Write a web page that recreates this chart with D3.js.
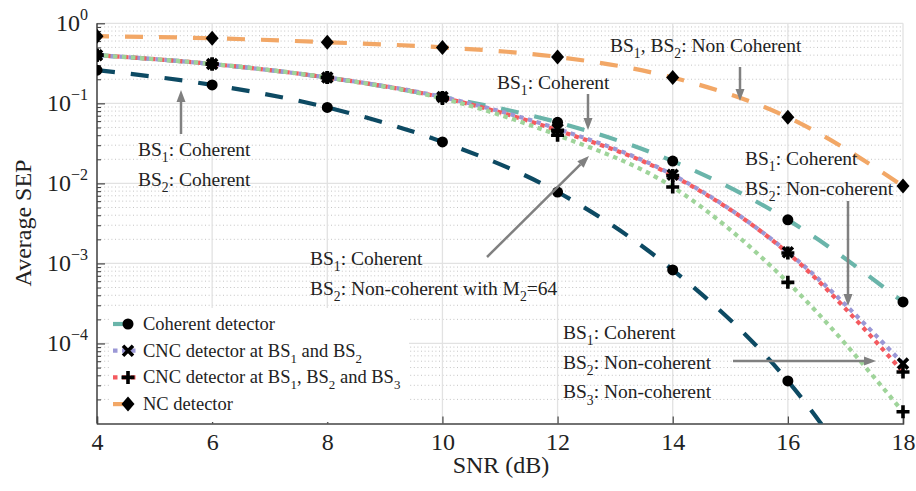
<!DOCTYPE html>
<html><head><meta charset="utf-8">
<script src="https://cdn.jsdelivr.net/npm/d3@7"></script>
<style>body{margin:0;background:#fff}svg{display:block}text{font-family:"Liberation Serif","DejaVu Serif",serif;fill:#222}</style>
</head><body><svg id="c" width="916" height="491"></svg>
<script>
const snr = [4, 6, 8, 10, 12, 14, 16, 18];
const xTicks = [4, 6, 8, 10, 12, 14, 16, 18];
const yTickExp = [0, -1, -2, -3, -4];
// series values (Average SEP)
const coherentAll = [0.40, 0.31, 0.21, 0.12, 0.058, 0.019, 0.0035, 0.00033];
const coherentTwo = [0.26, 0.17, 0.089, 0.033, 0.0078, 0.00083, 0.000034, 0.0000003];
const cncBS12 = [0.40, 0.31, 0.21, 0.12, 0.048, 0.0128, 0.00138, 0.000056];
const cncBS123 = [0.40, 0.31, 0.21, 0.118, 0.046, 0.0125, 0.00135, 0.000044];
const cncM64 = [0.40, 0.31, 0.21, 0.115, 0.040, 0.0090, 0.00058, 0.000014];
const ncDet = [0.69, 0.65, 0.58, 0.50, 0.38, 0.21, 0.067, 0.0093];
const legendLabels = ["Coherent detector", "CNC detector at BS_1 and BS_2", "CNC detector at BS_1, BS_2 and BS_3", "NC detector"];

const svg = d3.select("#c");
const L = 97, R = 903, T = 23.3, B = 423.5;
const x = d3.scaleLinear().domain([4, 18]).range([L, R]);
const y = d3.scaleLog().domain([1e-5, 1]).range([B, T]);

// grid
const g = svg.append("g");
for (let e = -5; e < 0; e++) {
  for (let m = 2; m <= 9; m++) {
    const v = m * Math.pow(10, e);
    g.append("line").attr("x1", L).attr("x2", R).attr("y1", y(v)).attr("y2", y(v))
      .attr("stroke", "#c4c4c4").attr("stroke-width", 1).attr("stroke-dasharray", "1,2.6");
  }
}
yTickExp.forEach(e => g.append("line").attr("x1", L).attr("x2", R).attr("y1", y(Math.pow(10, e))).attr("y2", y(Math.pow(10, e)))
  .attr("stroke", "#e2e2e2").attr("stroke-width", 1.3));
xTicks.forEach(t => g.append("line").attr("x1", x(t)).attr("x2", x(t)).attr("y1", T).attr("y2", B)
  .attr("stroke", "#e2e2e2").attr("stroke-width", 1.3));

// axes
const xAxis = d3.axisBottom(x).tickValues(xTicks).tickSize(-7).tickPadding(9).tickFormat(d3.format("d"));
const ax = svg.append("g").attr("transform", `translate(0,${B})`).call(xAxis);
ax.select(".domain").attr("stroke", "#444").attr("stroke-width", 1.5);
ax.selectAll(".tick line").attr("stroke", "#444").attr("stroke-width", 1.2);
ax.selectAll("text").style("font-size", "24px").style("font-family", "Liberation Serif").attr("fill", "#222");

const minorVals = [];
for (let e = -5; e < 0; e++) for (let m = 2; m <= 9; m++) minorVals.push(m * Math.pow(10, e));
const yMinor = d3.axisLeft(y).tickValues(minorVals).tickSize(-4).tickFormat("");
const aym = svg.append("g").attr("transform", `translate(${L},0)`).call(yMinor);
aym.select(".domain").remove();
aym.selectAll(".tick line").attr("stroke", "#444").attr("stroke-width", 1.1);
const yAxis = d3.axisLeft(y).tickValues(yTickExp.map(e => Math.pow(10, e))).tickSize(-8).tickFormat("");
const ay = svg.append("g").attr("transform", `translate(${L},0)`).call(yAxis);
ay.select(".domain").attr("stroke", "#444").attr("stroke-width", 1.5).attr("d", `M0,${T}V${B}`);
ay.selectAll(".tick line").attr("stroke", "#444").attr("stroke-width", 1.2);
yTickExp.forEach(e => {
  const t = svg.append("text").attr("x", 88).attr("y", y(Math.pow(10, e)) + 8).attr("text-anchor", "end").style("font-size", "24px");
  t.append("tspan").text("10");
  t.append("tspan").attr("dy", -11).style("font-size", "16px").text(e === 0 ? "0" : "\u2212" + (-e));
});

svg.append("text").attr("x", 501).attr("y", 473).attr("text-anchor", "middle").style("font-size", "24px").text("SNR (dB)");
svg.append("text").attr("transform", "translate(31,223) rotate(-90)").attr("text-anchor", "middle").style("font-size", "24px").text("Average SEP");

// lines
svg.append("clipPath").attr("id", "clip").append("rect").attr("x", L).attr("y", T - 10).attr("width", R - L + 10).attr("height", B - T + 10);
const lg = svg.append("g").attr("clip-path", "url(#clip)");
const line = d3.line().x((d, i) => x(snr[i])).y(d => y(d)).curve(d3.curveMonotoneX);
const series = [
  {v: coherentTwo, c: "#0d4a63", dash: "18,16", off: 0, mk: "o"},
  {v: coherentAll, c: "#6ab5aa", dash: "18,16", off: 0, mk: "o"},
  {v: ncDet, c: "#f2a766", dash: "18,16", off: 6, mk: "d"},
  {v: cncBS12, c: "#9b98d6", dash: "4.5,4.5", off: 4.5, mk: "x"},
  {v: cncBS123, c: "#f45a5f", dash: "4.5,4.5", off: 0, mk: "+"},
  {v: cncM64, c: "#9fd49a", dash: "4.5,4.5", off: 2, mk: "+"}
];
series.forEach(s => lg.append("path").attr("d", line(s.v)).attr("fill", "none").attr("stroke", s.c)
  .attr("stroke-width", 4.2).attr("stroke-dasharray", s.dash).attr("stroke-dashoffset", s.off));

function marker(sel, type, cx, cy) {
  if (type === "o") sel.append("circle").attr("cx", cx).attr("cy", cy).attr("r", 5.5).attr("fill", "#000");
  else if (type === "d") sel.append("path").attr("d", `M${cx},${cy-7.5}L${cx+6.5},${cy}L${cx},${cy+7.5}L${cx-6.5},${cy}Z`).attr("fill", "#000");
  else if (type === "x") sel.append("path").attr("d", `M${cx-5},${cy-5}L${cx+5},${cy+5}M${cx-5},${cy+5}L${cx+5},${cy-5}`).attr("stroke", "#000").attr("stroke-width", 3.6);
  else if (type === "+") sel.append("path").attr("d", `M${cx-6.5},${cy}H${cx+6.5}M${cx},${cy-6.5}V${cy+6.5}`).attr("stroke", "#000").attr("stroke-width", 3.6);
}
const mg = svg.append("g").attr("clip-path", "url(#clip)");
series.forEach(s => s.v.forEach((v, i) => { if (v >= 1e-5) marker(mg, s.mk, x(snr[i]), y(v)); }));

// rich text helper: "_x" -> subscript char
function rich(sel, str, fs) {
  const parts = str.split(/(_\d)/);
  let sub = false;
  parts.forEach(p => {
    if (!p) return;
    if (p[0] === "_") {
      sel.append("tspan").attr("dy", fs * 0.32).style("font-size", (fs * 0.7) + "px").text(p.slice(1));
      sub = true;
    } else {
      const t = sel.append("tspan").text(p);
      if (sub) { t.attr("dy", -fs * 0.32); sub = false; }
    }
  });
}

// legend
const leg = svg.append("g");
leg.append("rect").attr("x", 109).attr("y", 308).attr("width", 300).attr("height", 114).attr("fill", "#fff");
const legSeries = [series[1], series[3], series[4], series[2]];
legSeries.forEach((s, i) => {
  const cy = 324 + i * 26.7;
  leg.append("line").attr("x1", 113).attr("x2", 138).attr("y1", cy).attr("y2", cy).attr("stroke", s.c)
    .attr("stroke-width", 4.2).attr("stroke-dasharray", s.dash);
  marker(leg, s.mk, 128, cy);
  rich(leg.append("text").attr("x", 143).attr("y", cy + 6).style("font-size", "18.5px"), legendLabels[i], 18.5);
});

// annotations
const notes = [
  {x: 138, y: 156, lines: ["BS_1: Coherent", "BS_2: Coherent"]},
  {x: 610, y: 52, lines: ["BS_1, BS_2: Non Coherent"]},
  {x: 497, y: 89, lines: ["BS_1: Coherent"]},
  {x: 745, y: 165, lines: ["BS_1: Coherent", "BS_2: Non-coherent"]},
  {x: 310, y: 265, lines: ["BS_1: Coherent", "BS_2: Non-coherent with M_2=64"]},
  {x: 563, y: 339, lines: ["BS_1: Coherent", "BS_2: Non-coherent", "BS_3: Non-coherent"]}
];
notes.forEach(n => n.lines.forEach((l, i) => rich(svg.append("text").attr("x", n.x).attr("y", n.y + i * 29.7).style("font-size", "19.5px"), l, 19.5)));

const arrows = [
  [181, 134, 181, 90], [740, 67, 740, 101], [588, 94, 588, 130], [848, 201, 848, 306], [487, 257, 589, 156], [733, 361, 876, 361]
];
arrows.forEach(([x1, y1, x2, y2]) => {
  const a = Math.atan2(y2 - y1, x2 - x1), hl = 12, hw = 4.5;
  const bx = x2 - hl * Math.cos(a), by = y2 - hl * Math.sin(a);
  svg.append("line").attr("x1", x1).attr("y1", y1).attr("x2", bx).attr("y2", by).attr("stroke", "#808080").attr("stroke-width", 2.5);
  svg.append("path").attr("d", `M${x2},${y2}L${bx - hw * Math.sin(a)},${by + hw * Math.cos(a)}L${bx + hw * Math.sin(a)},${by - hw * Math.cos(a)}Z`).attr("fill", "#808080");
});
</script></body></html>
